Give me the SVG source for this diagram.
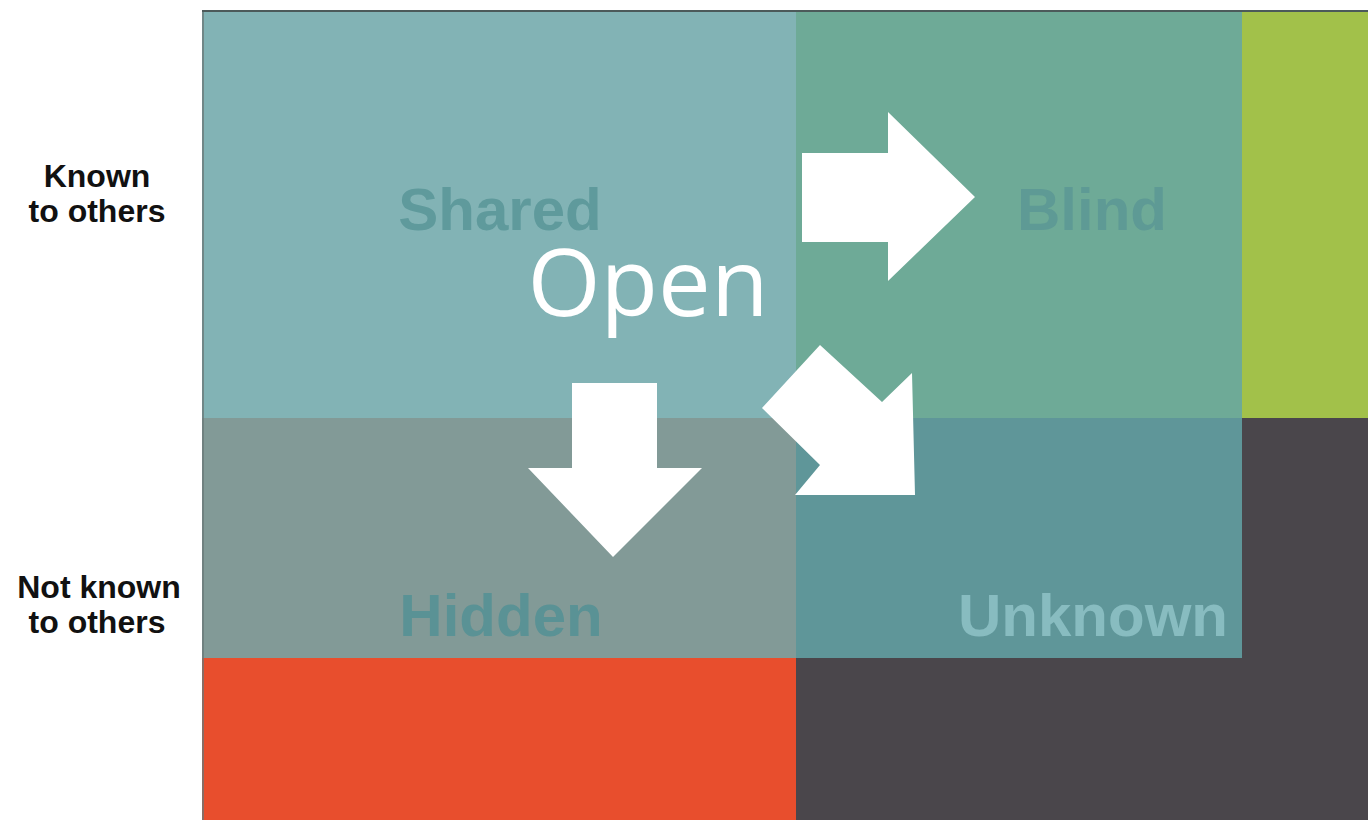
<svg xmlns="http://www.w3.org/2000/svg" width="1368" height="820" viewBox="0 0 1368 820">
<style>
.lab{font-family:"Liberation Sans",Arial,sans-serif;font-weight:bold;font-size:32px;fill:#111;text-anchor:middle}
.q{font-family:"Liberation Sans",Arial,sans-serif;font-weight:bold;font-size:60px;text-anchor:middle}
.arrow{fill:#ffffff}
</style>
<rect width="1368" height="820" fill="#ffffff"/>
<g id="green"><rect x="1242" y="12" width="126" height="406" fill="#a2c14a"/></g>
<g id="dark"><rect x="1242" y="418" width="126" height="402" fill="#4a464b"/><rect x="796" y="658" width="446" height="162" fill="#4a464b"/></g>
<g id="red"><rect x="202" y="658" width="594" height="162" fill="#e84e2d"/></g>
<g id="shared"><rect x="202" y="12" width="594" height="406" fill="#82b3b5"/><text class="q" x="500" y="230" fill="#5f9a9c">Shared</text></g>
<g id="blind"><rect x="796" y="12" width="446" height="406" fill="#6eaa97"/><text class="q" x="1092" y="230" fill="#5e9a95">Blind</text></g>
<g id="hidden"><rect x="202" y="418" width="594" height="240" fill="#829a97"/><text class="q" x="501" y="636" fill="#5a9295">Hidden</text></g>
<g id="unknown"><rect x="796" y="418" width="446" height="240" fill="#5f9699"/><text class="q" x="1093" y="636" fill="#88bcc0">Unknown</text></g>
<line x1="202" y1="11" x2="1368" y2="11" stroke="#4c5a5a" stroke-width="2"/>
<line x1="203" y1="12" x2="203" y2="820" stroke="#6a7878" stroke-width="1.5"/>
<g id="open"><text x="648" y="316" font-family="'Open Sans',sans-serif" font-size="94" fill="#ffffff" text-anchor="middle">Open</text></g>
<g id="connectors">
<polygon class="arrow" points="802,153 888,153 888,112 975,197 888,281 888,242 802,242"/>
<polygon class="arrow" points="572,383 657,383 657,468 702,468 613,557 528,468 572,468"/>
<polygon class="arrow" points="820,345 882,402 912,373 915,495 795,495 820,465 762,408"/>
</g>
<g id="row-labels">
<text class="lab" x="97" y="187">Known</text>
<text class="lab" x="97" y="222">to others</text>
<text class="lab" x="99" y="598">Not known</text>
<text class="lab" x="97" y="633">to others</text>
</g>
</svg>
